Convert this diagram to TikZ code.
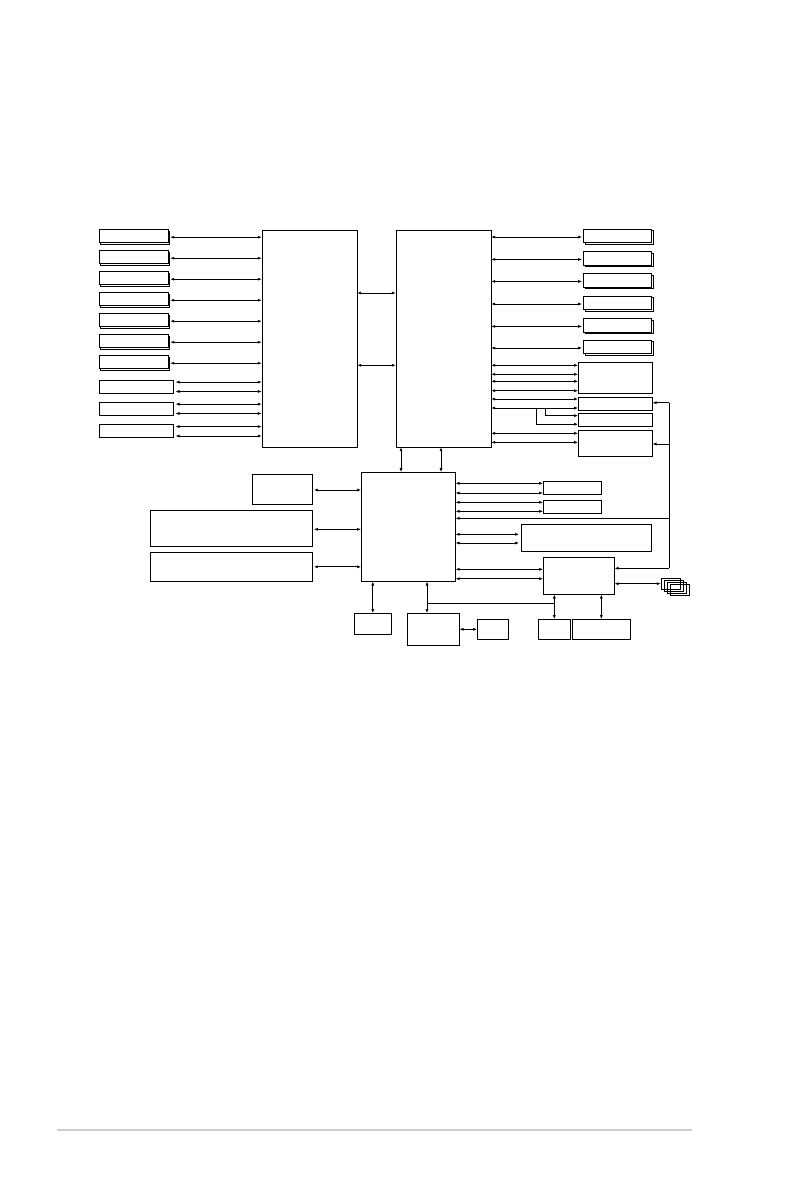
\documentclass[tikz,border=0pt]{standalone}
\usetikzlibrary{arrows.meta,shadows}
\begin{document}
\begin{tikzpicture}[x=1pt,y=-1pt,
  >={Latex[length=4.2pt,width=3pt]},
  box/.style={draw, line width=0.95pt, inner sep=0pt, outer sep=0pt, anchor=north west, fill=white},
  dbox/.style={box, minimum width=69pt, minimum height=13.4pt, copy shadow={shadow xshift=1.8pt, shadow yshift=-1.6pt}},
  stk/.style={draw, line width=0.8pt, inner sep=0pt, outer sep=0pt, anchor=north west, minimum width=19.3pt, minimum height=10.7pt},
  arr/.style={<->, line width=0.85pt},
  toarr/.style={->, line width=0.85pt},
  ln/.style={line width=0.85pt}]
\useasboundingbox (0,0) rectangle (794,1191);

% CPUs and PCH
\node[box, minimum width=95pt, minimum height=217pt] (cpu1) at (262,230) {};
\node[box, minimum width=95pt, minimum height=217pt] (cpu2) at (396,230) {};
\node[box, minimum width=94pt, minimum height=109pt] (pch) at (361.3,472.3) {};

% left double boxes
\foreach \i/\y in {1/229.5,2/250.5,3/271.5,4/292.5,5/313.5,6/334.5,7/355.5}{
  \node[dbox] (lb\i) at (99,\y) {};
  \coordinate (la\i) at ([xshift=2pt,yshift=-1pt]lb\i.east);
  \draw[arr] (la\i) -- (la\i -| cpu1.west);
}
% left single boxes
\foreach \i/\y in {1/380.3,2/402.3,3/424.8}{
  \node[box, minimum width=74pt, minimum height=12.8pt] (ls\i) at (99.3,\y) {};
  \coordinate (lsu\i) at ([xshift=2pt,yshift=4.6pt]ls\i.east);
  \coordinate (lsd\i) at ([xshift=2pt,yshift=-4.8pt]ls\i.east);
  \draw[arr] (lsu\i) -- (lsu\i -| cpu1.west);
  \draw[arr] (lsd\i) -- (lsd\i -| cpu1.west);
}
% CPU to CPU
\draw[arr] (cpu1.east |- 0,293) -- (cpu2.west |- 0,293);
\draw[arr] (cpu1.east |- 0,365.3) -- (cpu2.west |- 0,365.3);

% right double boxes
\foreach \i/\y in {1/229.3,2/251.7,3/273.7,4/296.3,5/318.7,6/340.3}{
  \node[dbox, minimum width=68.4pt] (rb\i) at (583.3,\y) {};
  \coordinate (ra\i) at ([xshift=-1pt,yshift=-1pt]rb\i.west);
  \draw[arr] (ra\i -| cpu2.east) -- (ra\i);
}
% right single boxes
\node[box, minimum width=74pt, minimum height=31pt] (A) at (578.3,362.3) {};
\node[box, minimum width=74pt, minimum height=13pt] (B) at (578.3,397.3) {};
\node[box, minimum width=74pt, minimum height=13pt] (C) at (578.3,413.3) {};
\node[box, minimum width=74pt, minimum height=26pt] (D) at (578.3,430.3) {};
\foreach \y in {365.3,374.3,381.3,390.7}{
  \draw[arr] (cpu2.east |- 0,\y) -- (A.west |- 0,\y);
}
\foreach \y in {399,408}{
  \draw[arr] (cpu2.east |- 0,\y) -- (B.west |- 0,\y);
}
\coordinate (bj1) at (545.3,408);
\coordinate (bj2) at (536.9,408);
\draw[toarr] (bj1) |- (C.west |- 0,415.6);
\draw[toarr] (bj2) |- (C.west |- 0,424.2);
\foreach \y in {433.3,442.3}{
  \draw[arr] (cpu2.east |- 0,\y) -- (D.west |- 0,\y);
}

% CPU to PCH
\draw[arr] (cpu2.south -| 401,0) -- (pch.north -| 401,0);
\draw[arr] (cpu2.south -| 441,0) -- (pch.north -| 441,0);

% PCH left
\node[box, minimum width=60.4pt, minimum height=30pt] (E) at (252.3,474.3) {};
\node[box, minimum width=162.4pt, minimum height=36pt] (F) at (150.3,510.3) {};
\node[box, minimum width=162.4pt, minimum height=29pt] (G) at (150.3,552.3) {};
\draw[arr] ([xshift=1pt,yshift=-0.7pt]E.east) -- ([yshift=-0.7pt]E.east -| pch.west);
\draw[arr] ([xshift=1pt,yshift=-1pt]F.east) -- ([yshift=-1pt]F.east -| pch.west);
\draw[arr] ([xshift=1pt]G.east) -- (G.east -| pch.west);

% PCH right
\node[box, minimum width=58.4pt, minimum height=13pt] (N1) at (543.3,481.3) {};
\node[box, minimum width=58.4pt, minimum height=13pt] (N2) at (543.3,500.3) {};
\node[box, minimum width=130pt, minimum height=27pt] (P) at (521.3,524.3) {};
\node[box, minimum width=71pt, minimum height=37pt] (J) at (543.3,557.3) {};
\foreach \y in {483.3,493}{\draw[arr] (pch.east |- 0,\y) -- (N1.west |- 0,\y);}
\foreach \y in {502.3,511.3}{\draw[arr] (pch.east |- 0,\y) -- (N2.west |- 0,\y);}
\foreach \y in {534.3,543}{\draw[arr] (pch.east |- 0,\y) -- ([xshift=-2pt]P.west |- 0,\y);}
\foreach \y in {569.3,578.7}{\draw[arr] (pch.east |- 0,\y) -- (J.west |- 0,\y);}

% right vertical bus
\coordinate (rv1) at (669.3,402.7);
\coordinate (rv2) at (669.3,568.3);
\draw[ln] (rv1) -- (rv2);
\draw[toarr] (rv1) -- (rv1 -| B.east);
\draw[toarr] (rv1 |- 0,444) -- (D.east |- 0,444);
\draw[toarr] (rv1 |- 0,518.3) -- (pch.east |- 0,518.3);
\draw[toarr] (rv2) -- (rv2 -| J.east);

% stacked boxes
\foreach \i in {0,1,2,3}{
  \node[stk] (st\i) at ({661+3*\i},{578.3+2*\i}) {};
}
\draw[arr] (J.east |- st0.west) -- (st0.west);

% bottom boxes
\node[box, minimum width=37pt, minimum height=21pt] (H) at (354.3,613.3) {};
\node[box, minimum width=52pt, minimum height=32pt] (I) at (407.3,613.3) {};
\node[box, minimum width=31pt, minimum height=20pt] (L) at (477.3,619.3) {};
\node[box, minimum width=32pt, minimum height=20pt] (K) at (538.3,619.3) {};
\node[box, minimum width=58pt, minimum height=20pt] (M) at (572.3,619.3) {};
\draw[arr] (pch.south -| H.north) -- (H.north);
\draw[arr] (pch.south -| 427,0) -- (I.north -| 427,0);
\coordinate (jn1) at (427,603.3);
\coordinate (jn2) at (554.3,603.3);
\draw[ln] (jn1) -- (jn2);
\draw[arr] (J.south -| K.north) -- (K.north);
\draw[arr] (J.south -| M.north) -- (M.north);
\draw[arr] (I.east |- L.west) -- (L.west);

% footer rule
\coordinate (fr1) at (57,1130);
\coordinate (fr2) at (692,1130);
\draw[black!20, line width=2pt] (fr1) -- (fr2);
\end{tikzpicture}
\end{document}
